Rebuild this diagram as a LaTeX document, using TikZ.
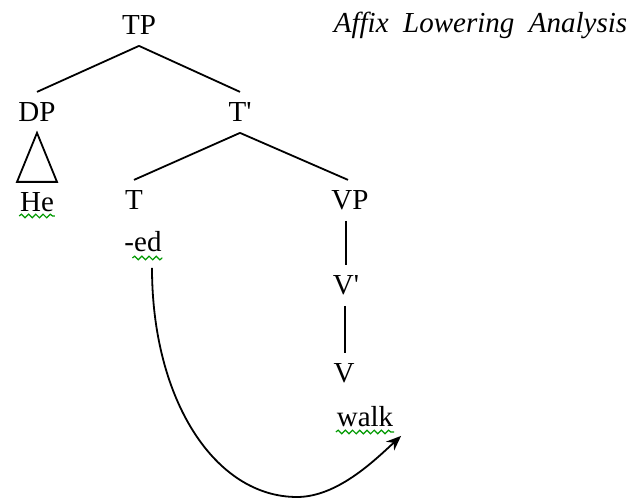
\documentclass[tikz,border=0pt]{standalone}
\usepackage{fontspec}
\setmainfont{Liberation Serif}
\usetikzlibrary{arrows.meta,decorations.pathmorphing}
\begin{document}
\begin{tikzpicture}[x=0.5pt, y=-0.5pt, line width=0.9pt,
  cat/.style={anchor=base, inner xsep=0pt, inner ysep=5pt, text height=9.6pt, text depth=0pt, font=\fontsize{14.5}{17}\selectfont},
  squig/.style={draw=green!60!black, line width=0.6pt, decorate, decoration={snake, amplitude=0.9pt, segment length=3.6pt}},
  move/.style={line width=0.9pt, -{Stealth[length=7.5pt, width=6pt]}}]
\useasboundingbox (0,0) rectangle (633,501);
\node[anchor=base west, inner sep=0pt, font=\fontsize{14.5}{17}\selectfont\itshape] (title) at (333,33){Affix\ \ Lowering\ \ Analysis};
\node[cat] (tp) at (139,35){TP};
\node[cat] (dp) at (37,122){DP};
\node[cat] (tbar) at (240,122){T\textquotesingle};
\node[cat] (he) at (37,212){He};
\node[cat] (t) at (134,210){T};
\node[cat] (vp) at (350,210){VP};
\node[cat] (ed) at (143,252){-ed};
\node[cat] (vbar) at (346,295){V\textquotesingle};
\node[cat] (v) at (344,383){V};
\node[cat] (walk) at (365,427){walk};
\draw[](tp.south) -- (dp.north);
\draw[](tp.south) -- (tbar.south |- dp.north);
\draw[](tbar.south) -- (t.north);
\draw[](tbar.south) -- ([xshift=-1pt]vp.north);
\draw[](dp.south) -- ([xshift=-10pt]he.north) -- ([xshift=10pt]he.north) -- cycle;
\draw[]([xshift=-2pt]vp.south) -- (vbar.north);
\draw[]([xshift=-0.5pt]vbar.south) -- ([xshift=0.5pt]v.north);
\path[squig] ([yshift=-2pt]he.base west) -- ([yshift=-2pt]he.base east);
\path[squig] ([xshift=-15pt,yshift=-3pt]ed.base east) -- ([yshift=-3pt]ed.base east);
\path[squig] ([yshift=-2.5pt]walk.base west) -- ([yshift=-2.5pt]walk.base east);
\coordinate (low) at (297,497);
\draw[move] ([xshift=4.5pt,yshift=-2.5pt]ed.south) .. controls (152,400) and (215,497) .. (low) .. controls (337,497) and (374,461) .. ([xshift=3.5pt,yshift=1pt]walk.south east);
\end{tikzpicture}
\end{document}
